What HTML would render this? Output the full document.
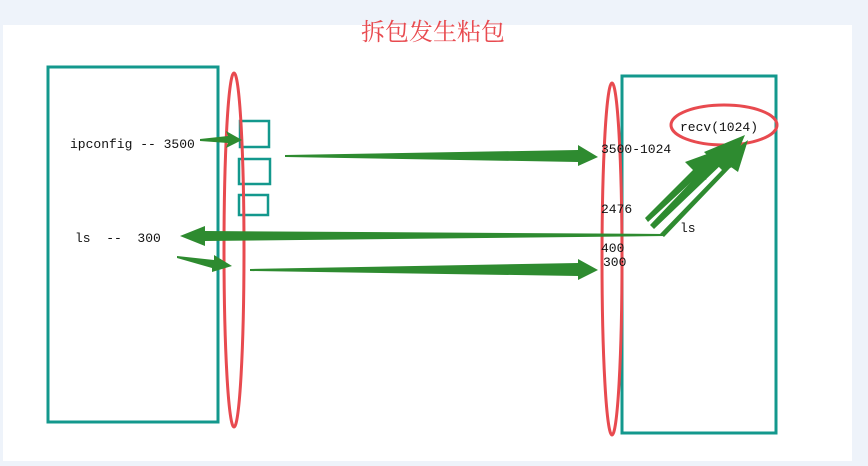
<!DOCTYPE html><html><head><style>body{margin:0;background:#eef3fa}svg{display:block}</style></head><body>
<svg width="868" height="466" xmlns="http://www.w3.org/2000/svg" font-family="'Liberation Mono','Noto Sans CJK SC',monospace">
<rect x="0" y="0" width="868" height="466" fill="#eef3fa"/>
<rect x="3" y="25" width="849" height="436" fill="#fff"/>
<text x="433" y="40" font-size="24" fill="#e84a4f" text-anchor="middle" font-family="'Noto Serif CJK SC','Noto Sans CJK SC',serif">拆包发生粘包</text>
<g fill="none" stroke="#13988d" stroke-width="3">
<rect x="48" y="67" width="170" height="355"/>
<rect x="622" y="76" width="154" height="357"/>
<rect x="240" y="121" width="29" height="26" stroke-width="2.5"/>
<rect x="239" y="159" width="31" height="25" stroke-width="2.5"/>
<rect x="239" y="195" width="29" height="20" stroke-width="2.5"/>
</g>
<g fill="none" stroke="#e84a4f" stroke-width="3">
<ellipse cx="234" cy="250" rx="10" ry="177"/>
<ellipse cx="612" cy="259" rx="10" ry="176"/>
<ellipse cx="724" cy="125" rx="53" ry="20"/>
</g>
<g fill="#2e8b30">
<polygon points="200,139 228,136 226,131 242,140 226,148 228,143 200,141"/>
<polygon points="285,155 578,150 578,145 598,157 578,166 578,162 285,157"/>
<polygon points="665,234 205,231 205,226 180,236 205,246 205,241 665,236"/>
<polygon points="177,256 214,260 214,255 232,266 212,272 212,268 177,258"/>
<polygon points="250,269 578,263 578,259 598,270 578,280 578,276 250,271"/>
<polygon points="645,218 693,170 685,162 718,150 706,180 700,174 648,222"/>
<polygon points="650,225 712,160 704,152 745,135 731,168 724,162 654,229"/>
<polygon points="660,234 722,170 716,164 748,140 738,172 731,167 664,237"/>
</g>
<rect x="250" y="234" width="415" height="2" fill="#2e8b30"/>
<g font-size="13" fill="#111">
<text x="70" y="148">ipconfig -- 3500</text>
<text x="75" y="242" xml:space="preserve">ls  --  300</text>
<text x="601" y="153">3500-1024</text>
<text x="601" y="213">2476</text>
<text x="601" y="252">400</text>
<text x="603" y="266">300</text>
<text x="680" y="232">ls</text>
<text x="680" y="131">recv(1024)</text>
</g>
</svg></body></html>
